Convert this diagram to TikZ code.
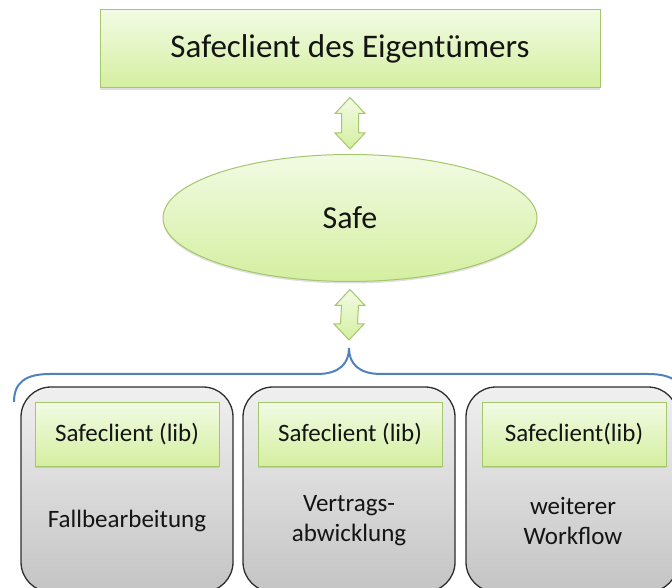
\documentclass[tikz,border=0pt]{standalone}
\usepackage{fontspec}
\setmainfont{Carlito}
\usetikzlibrary{calc,shapes.geometric,shadows}

\definecolor{gTop}{HTML}{F2FBE4}
\definecolor{gBot}{HTML}{D4EFA0}
\definecolor{gLine}{HTML}{A5C66B}
\definecolor{grTop}{HTML}{F0F0F0}
\definecolor{grBot}{HTML}{C4C4C4}
\definecolor{grLine}{HTML}{2E2E2E}
\definecolor{braceBlue}{HTML}{4F81BD}
\definecolor{ink}{HTML}{141414}

\tikzset{
  greenbox/.style={draw=gLine, line width=1pt, top color=gTop, bottom color=gBot,
    inner sep=0pt, text=ink,
    drop shadow={shadow xshift=0pt, shadow yshift=-2pt, opacity=0.25}},
  headbox/.style={greenbox, minimum width=500pt, minimum height=78pt,
    font=\fontsize{33}{40}\selectfont},
  safebox/.style={greenbox, ellipse, minimum width=374pt, minimum height=127pt,
    font=\fontsize{32}{38}\selectfont},
  libbox/.style={greenbox, minimum width=184pt, minimum height=64pt,
    font=\fontsize{25}{30}\selectfont},
  appbox/.style={draw=grLine, line width=1.3pt, rounded corners=30pt,
    top color=grTop, bottom color=grBot, minimum width=212pt, minimum height=205pt,
    inner sep=0pt},
  applabel/.style={text=ink, align=center, font=\fontsize{25}{30}\selectfont},
  dblarrow/.style={draw=gLine, line width=1pt, top color=gTop, bottom color=gBot,
    line join=miter},
  bracket/.style={draw=braceBlue, line width=2pt}
}

% vertical double arrow between two tip coordinates
\newcommand{\vdblarrow}[2]{%
  \path[dblarrow] (#1) -- ++(15,-16) -- ++(-6.5,0) -- ($(#2)+(8.5,16)$) -- ++(6.5,0)
    -- (#2) -- ++(-15,16) -- ++(6.5,0) -- ($(#1)+(-8.5,-16)$) -- ++(-6.5,0) -- cycle;}

\begin{document}
\begin{tikzpicture}[x=1pt, y=1pt]
  \useasboundingbox (0,0) rectangle (672,587);

  % owner client and safe
  \node[headbox] (owner) at (350,538) {Safeclient des Eigentümers};
  \node[safebox] (safe) at (350,369) {Safe};

  % application boxes
  \begin{scope}
    \clip (0,0) rectangle (672,587);
    \node[appbox] (app1) at (127,97.5) {};
    \node[appbox] (app2) at (349,97.5) {};
    \node[appbox] (app3) at (572,97.5) {};
  \end{scope}

  \node[libbox] (lib1) at (127,153) {Safeclient (lib)};
  \node[libbox] (lib2) at (350,153) {Safeclient (lib)};
  \node[libbox] (lib3) at (574,153) {Safeclient(lib)};

  \node[applabel] (txt1) at (127,66) {Fallbearbeitung};
  \node[applabel] (txt2) at (349,66) {Vertrags-\\abwicklung};
  \node[applabel] (txt3) at (573,66) {weiterer\\Workflow};

  % curly bracket over the three applications
  \coordinate (btip) at (349,239);
  \coordinate (bleft) at (14,185);
  \coordinate (bright) at (684,185);
  \draw[bracket] (bleft) .. controls (14,205) and (26,213) .. (50,213)
    -- (317,213) .. controls (340,213) and (349,224) .. (btip)
    .. controls (349,224) and (358,213) .. (381,213)
    -- (648,213) .. controls (672,213) and (684,205) .. (bright);

  % double arrows
  \coordinate (a1t) at ([yshift=-9pt]owner.south);
  \coordinate (a1b) at ([yshift=5pt]safe.north);
  \coordinate (a2t) at ([yshift=-7.5pt]safe.south);
  \coordinate (a2b) at ([yshift=8pt]btip);
  \vdblarrow{a1t}{a1b}
  \vdblarrow{a2t}{a2b}
\end{tikzpicture}
\end{document}
